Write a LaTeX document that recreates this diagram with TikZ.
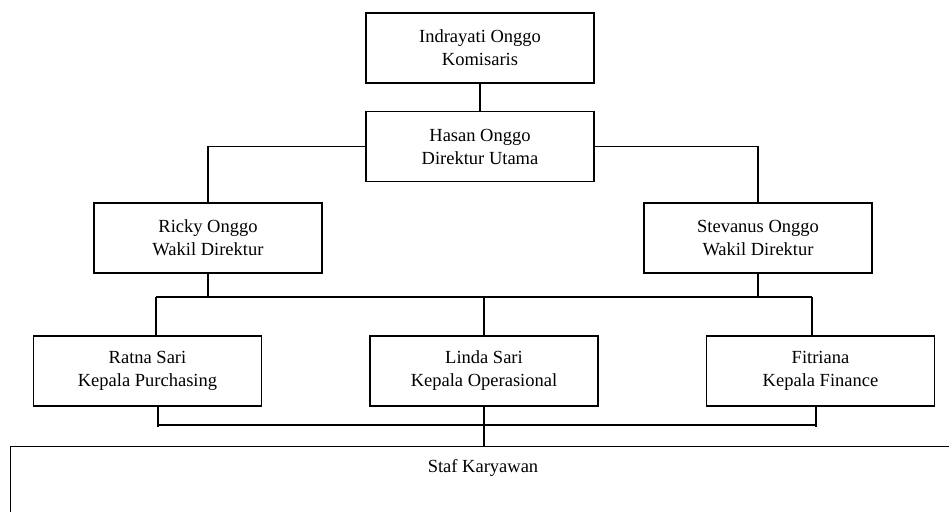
\documentclass[tikz,border=0pt]{standalone}
\usepackage{fontspec}
\setmainfont{Liberation Serif}
\usetikzlibrary{positioning}

\begin{document}
\begin{tikzpicture}[x=1pt,y=-1pt,line width=1.4pt,
    every node/.style={font=\fontsize{18.5}{23}\selectfont,align=center}]

      \clip (0,0) rectangle (949,511);

      \begin{scope}[every node/.style={rectangle,draw,line width=1.4pt,
          minimum width=228pt,minimum height=70pt,align=center,
          font=\fontsize{18.5}{23}\selectfont}]
        \node (kom)   at (480,48)    {Indrayati Onggo\\Komisaris};
        \node (dir)   at (480,146.5) {Hasan Onggo\\Direktur Utama};
        \node (ricky) at (208,238)   {Ricky Onggo\\Wakil Direktur};
        \node (stev)  at (758,238)   {Stevanus Onggo\\Wakil Direktur};
        \node (ratna) at (147.5,371) {Ratna Sari\\Kepala Purchasing};
        \node (linda) at (484,371)   {Linda Sari\\Kepala Operasional};
        \node (fitri) at (820.5,371) {Fitriana\\Kepala Finance};
        \node[anchor=north west,minimum width=980pt,minimum height=120pt] (staf) at (10,446) {};
      \end{scope}

      \node (staflbl) at (483,468) {Staf Karyawan};

      \coordinate (busL) at (156,297);
      \coordinate (busR) at (812,297);
      \coordinate (lowL) at (158,425);
      \coordinate (lowR) at (816,425);

      \draw (kom) -- (dir);
      \draw (dir.west) -| (ricky.north);
      \draw (dir.east) -| (stev.north);
      \draw (ricky.south) -- (ricky.south |- busL);
      \draw (stev.south) -- (stev.south |- busL);
      \draw (busL) -- (busR);
      \draw (busL) -- (busL |- ratna.north);
      \draw (linda.north |- busL) -- (linda.north);
      \draw (busR) -- (busR |- fitri.north);
      \draw (lowL) -- (lowR);
      \draw (ratna.south -| lowL) -- ([yshift=-2pt]lowL);
      \draw (fitri.south -| lowR) -- ([yshift=-2pt]lowR);
      \draw (linda.south) -- (linda.south |- staf.north);

    \end{tikzpicture}
\end{document}
